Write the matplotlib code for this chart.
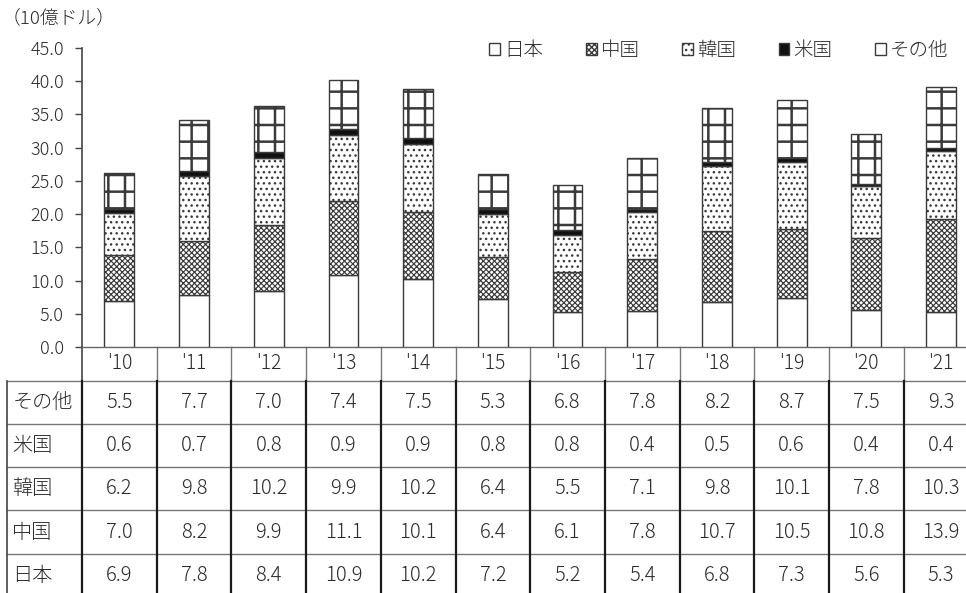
import numpy as np
import matplotlib
matplotlib.use("Agg")
import matplotlib.pyplot as plt
from matplotlib import transforms
from matplotlib.lines import Line2D

plt.rcParams['font.family'] = ['Noto Sans CJK JP', 'DejaVu Sans']
plt.rcParams['font.weight'] = 'light'

# ---- data (10億ドル) ----
years = ["'10", "'11", "'12", "'13", "'14", "'15", "'16", "'17", "'18", "'19", "'20", "'21"]
japan = [6.9, 7.8, 8.4, 10.9, 10.2, 7.2, 5.2, 5.4, 6.8, 7.3, 5.6, 5.3]
china = [7.0, 8.2, 9.9, 11.1, 10.1, 6.4, 6.1, 7.8, 10.7, 10.5, 10.8, 13.9]
korea = [6.2, 9.8, 10.2, 9.9, 10.2, 6.4, 5.5, 7.1, 9.8, 10.1, 7.8, 10.3]
usa = [0.6, 0.7, 0.8, 0.9, 0.9, 0.8, 0.8, 0.4, 0.5, 0.6, 0.4, 0.4]
other = [5.5, 7.7, 7.0, 7.4, 7.5, 5.3, 6.8, 7.8, 8.2, 8.7, 7.5, 9.3]

stack_names = ['日本', '中国', '韓国', '米国', 'その他']
stack_values = [japan, china, korea, usa, other]
table_order = ['その他', '米国', '韓国', '中国', '日本']

yticks = np.arange(0, 45.1, 5)

# ---- figure geometry (pixels) ----
W, H = 966, 593
fig = plt.figure(figsize=(W / 100, H / 100), dpi=100)
col_px = 74.7
ax_left, ax_top, ax_bottom = 82, 48, 347
ax_w = W - ax_left
ax = fig.add_axes([ax_left / W, 1 - ax_bottom / H, ax_w / W, (ax_bottom - ax_top) / H])

edge = '#3a3a3a'
txt = '#2a2a2a'
styles = {
    '日本': dict(facecolor='white', hatch=None, hlw=1.0),
    '中国': dict(facecolor='white', hatch='xxxxxx', hlw=0.85),
    '韓国': dict(facecolor='white', hatch='...', hlw=1.0),
    '米国': dict(facecolor='#111111', hatch=None, hlw=1.0),
    'その他': dict(facecolor='white', hatch='+', hlw=1.8),
}

x = np.arange(len(years))
bottom = np.zeros(len(years))
for name, vals in zip(stack_names, stack_values):
    st = styles[name]
    bars = ax.bar(x, vals, 0.4, bottom=bottom, facecolor=st['facecolor'],
                  edgecolor=edge, linewidth=1.0, hatch=st['hatch'], label=name,
                  zorder=3)
    for b in bars:
        if hasattr(b, 'set_hatch_linewidth'):
            b.set_hatch_linewidth(st['hlw'])
    bottom += np.array(vals)

ax.set_xlim(-0.5, -0.5 + ax_w / col_px)
ax.set_ylim(0, 45)
ax.set_yticks(yticks)
ax.set_yticklabels([f'{v:.1f}' for v in yticks], fontsize=13, color=txt)
ax.tick_params(axis='y', length=5, width=1, color='#444444', pad=8)
ax.set_xticks([])
for s in ('top', 'right'):
    ax.spines[s].set_visible(False)
ax.spines['left'].set_color('#444444')
ax.spines['bottom'].set_color('#666666')
ax.spines['left'].set_linewidth(1.2)
ax.spines['bottom'].set_linewidth(1.0)

leg = ax.legend(loc='upper right', bbox_to_anchor=(948 / W, 1 - 40 / H),
                bbox_transform=fig.transFigure, ncol=5, frameon=False,
                handlelength=0.55, handleheight=0.55, handletextpad=0.2,
                columnspacing=2.2, fontsize=14, borderaxespad=0, borderpad=0)
for t in leg.get_texts():
    t.set_color(txt)

fig.text(2 / W, 1 - 18 / H, '（10億ドル）', ha='left', va='center',
         fontsize=13.5, color=txt)

# ---- data table under the chart ----
tr = transforms.blended_transform_factory(ax.transData, fig.transFigure)

def fy(py):
    return 1 - py / H

header_bottom = 380.5
row_h = 43.3
row_lines = [header_bottom + i * row_h for i in range(6)]
x_left = -1.5
x_right = len(years) - 0.5

# horizontal rules
for py in row_lines:
    ax.add_line(Line2D([x_left, x_right], [fy(py), fy(py)], transform=tr,
                       color='#777777', lw=1.0, clip_on=False))
# vertical rules: gray in the header row, dark in the value rows
for k in range(len(years) + 1):
    xv = k - 0.5
    if k > 0:
        ax.add_line(Line2D([xv, xv], [fy(ax_bottom), fy(header_bottom)], transform=tr,
                           color='#777777', lw=1.0, clip_on=False))
    else:
        ax.add_line(Line2D([xv, xv], [fy(ax_bottom), fy(header_bottom)], transform=tr,
                           color='#444444', lw=1.2, clip_on=False))
    ax.add_line(Line2D([xv, xv], [fy(header_bottom), fy(row_lines[-1])], transform=tr,
                       color='#1a1a1a', lw=1.6, clip_on=False))
ax.add_line(Line2D([x_left, x_left], [fy(header_bottom), fy(row_lines[-1])], transform=tr,
                   color='#444444', lw=1.2, clip_on=False))

# year header
for i, yr in enumerate(years):
    ax.text(i, fy((ax_bottom + header_bottom) / 2), yr, transform=tr,
            ha='center', va='center', fontsize=14, color=txt)

# value rows
series_map = dict(zip(stack_names, stack_values))
for r, name in enumerate(table_order):
    cy = fy(header_bottom + (r + 0.5) * row_h)
    ax.text(x_left + 5 / col_px, cy, name, transform=tr, ha='left', va='center',
            fontsize=14.5, color=txt)
    for i, v in enumerate(series_map[name]):
        ax.text(i, cy, f'{v:.1f}', transform=tr, ha='center', va='center',
                fontsize=14.5, color=txt)

fig.savefig('out.png', dpi=100)
